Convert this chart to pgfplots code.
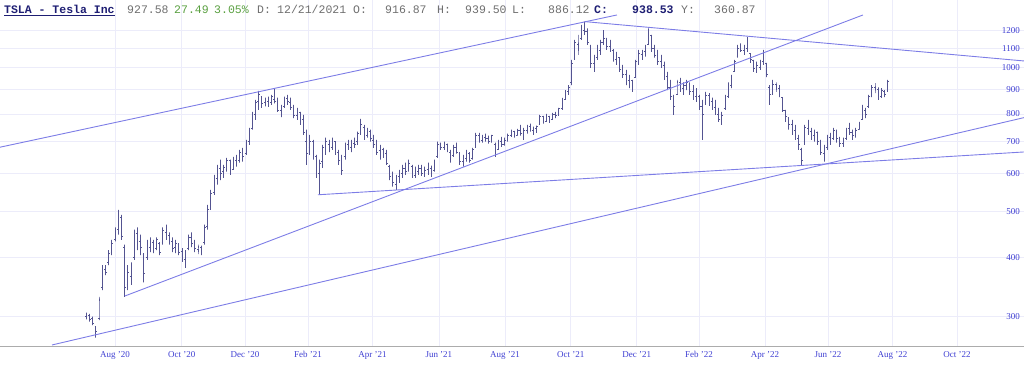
\documentclass[border=0pt]{standalone}
\usepackage{pgfplots}
\pgfplotsset{compat=1.18}
\usepackage{pgfplotstable}
\usepackage{fontspec}
\setmainfont{Liberation Serif}
\newfontfamily\mono{Liberation Mono}

\definecolor{barcol}{RGB}{84,84,145}
\definecolor{trend}{RGB}{125,125,230}
\definecolor{tickcol}{RGB}{62,62,210}
\definecolor{gridcol}{RGB}{236,236,250}
\definecolor{navy}{RGB}{30,30,115}
\definecolor{hdrgray}{RGB}{110,110,110}
\definecolor{hdrgreen}{RGB}{90,160,65}

% d = days since 1 Aug 2020; o h l c = open high low close
\pgfplotstableread{
d o h l c
-27 300 306 296 302
-24 302 304 293 296
-21 297 300 288 290
-18 286 286 271 280
-15 298 330 295 325
-12 345 385 341 378
-9 378 385 367 372
-6 390 414 385 408
-3 410 435 404 428
0 436 462 432 455
3 458 503 446 490
6 485 491 435 442
9 420 425 330 345
12 350 385 341 372
15 365 390 350 385
18 400 457 395 450
21 448 462 414 430
24 432 446 404 420
27 405 408 354 370
30 400 435 395 425
33 420 440 410 432
36 430 435 408 415
39 418 440 414 435
42 428 430 404 410
45 430 462 425 455
48 452 468 435 445
51 445 451 425 430
54 432 440 410 418
57 420 435 408 428
60 425 428 404 410
63 412 418 391 398
66 395 414 380 408
69 418 446 414 440
72 440 451 420 428
75 430 435 410 418
78 415 425 406 420
81 420 423 404 410
84 430 468 425 462
87 465 515 457 505
90 505 554 503 545
93 548 596 541 588
96 585 625 568 610
99 615 641 581 600
102 605 625 587 618
105 612 647 605 640
108 638 641 596 605
111 612 650 610 645
114 640 656 620 630
117 638 672 632 665
120 660 679 635 650
123 662 706 656 700
126 700 748 689 740
129 745 808 741 800
132 800 856 777 845
135 850 894 816 880
138 870 870 824 840
141 845 866 830 850
144 850 870 828 835
147 845 877 836 870
150 860 903 842 850
153 850 866 808 815
156 815 836 788 826
159 828 870 824 860
162 862 877 836 850
165 845 866 816 825
168 825 836 784 795
171 795 824 777 810
174 805 808 759 770
177 780 796 723 730
180 700 741 625 660
183 680 723 656 700
186 700 706 641 660
189 650 656 587 600
192 600 641 541 630
195 635 689 616 680
198 680 713 656 700
201 690 706 665 675
204 680 713 672 705
207 700 700 656 665
210 665 672 625 640
213 640 656 596 610
216 650 696 641 690
219 690 706 672 685
222 680 706 665 700
225 695 713 679 690
228 700 734 689 728
231 730 781 723 760
234 750 759 706 720
237 720 748 713 740
240 735 741 700 710
243 705 723 679 690
246 690 706 656 665
249 670 689 641 680
252 675 679 647 655
255 660 672 625 630
258 620 625 581 590
261 595 605 563 575
264 570 596 554 590
267 590 610 573 600
270 600 625 587 615
273 615 632 596 605
276 610 641 605 630
279 620 625 587 595
282 595 620 587 610
285 605 625 596 615
288 615 625 593 600
291 600 620 590 610
294 612 632 596 620
297 615 623 590 600
300 610 641 605 635
303 650 700 647 690
306 690 696 672 680
309 680 700 672 695
312 690 693 665 670
315 665 672 632 640
318 655 689 650 680
321 680 696 660 665
324 660 665 625 635
327 635 656 620 650
330 645 672 635 660
333 660 665 632 640
336 645 679 641 675
339 680 730 679 720
342 720 730 696 705
345 705 723 696 718
348 715 727 700 710
351 712 720 693 700
354 700 723 696 720
357 690 696 650 660
360 675 706 672 700
363 700 716 682 690
366 690 713 686 705
369 705 727 700 722
372 722 741 716 735
375 735 737 713 720
378 722 744 720 740
381 740 759 720 728
384 728 748 706 740
387 740 759 727 752
390 752 763 734 740
393 740 752 723 745
396 745 756 730 752
399 760 796 759 790
402 790 792 763 770
405 772 800 770 795
408 790 792 766 780
411 780 804 777 800
414 800 808 784 795
417 798 824 792 820
420 820 864 816 860
423 860 898 856 890
426 890 920 877 910
429 930 1039 920 1020
432 1045 1144 1039 1130
435 1120 1172 1064 1090
438 1150 1230 1144 1210
441 1200 1250 1172 1190
444 1190 1210 1117 1130
447 1110 1117 1000 1020
450 1020 1064 980 1050
453 1050 1117 1039 1100
456 1090 1144 1064 1130
459 1130 1200 1117 1150
462 1150 1155 1090 1110
465 1110 1144 1080 1135
468 1090 1095 1030 1040
471 1040 1080 1014 1060
474 1050 1050 980 990
477 990 1014 952 970
480 970 990 920 935
483 940 966 906 950
486 940 943 890 905
489 955 1039 952 1030
492 1030 1090 1014 1070
495 1065 1090 1039 1080
498 1080 1117 1055 1100
501 1120 1210 1117 1180
504 1170 1172 1080 1100
507 1100 1117 1050 1060
510 1060 1090 1014 1030
513 1030 1064 1000 1010
516 1010 1030 943 960
519 960 980 898 910
522 910 943 856 870
525 870 877 796 830
528 880 943 877 930
531 930 952 890 905
534 905 932 877 920
537 920 943 898 930
540 925 932 877 890
543 890 920 856 870
546 870 906 848 895
549 870 877 816 830
552 830 856 706 800
555 845 890 836 875
558 875 885 832 850
561 850 866 816 825
564 825 856 796 805
567 800 824 770 780
570 780 808 759 795
573 820 877 816 870
576 870 932 864 920
579 920 966 906 960
582 985 1039 980 1030
585 1055 1117 1050 1100
588 1095 1125 1080 1090
591 1090 1117 1064 1110
594 1100 1160 1080 1090
597 1070 1072 1024 1040
600 1035 1039 980 995
603 990 1030 976 1010
606 1000 1039 990 1030
609 1030 1090 1014 1075
612 1020 1024 956 970
615 910 920 836 880
618 880 943 877 925
621 925 932 890 900
624 905 920 868 875
627 865 868 808 815
630 815 816 770 790
633 785 788 741 760
636 760 777 723 735
639 740 759 706 715
642 712 723 672 690
645 675 679 625 640
648 700 759 689 750
651 745 777 723 735
654 735 748 706 715
657 720 741 700 730
660 730 734 689 700
663 700 706 656 665
666 660 689 635 680
669 680 723 672 715
672 715 730 689 700
675 710 748 706 740
678 735 741 696 710
681 710 716 682 695
684 695 713 682 705
687 710 748 706 740
690 745 766 723 730
693 730 741 706 720
696 720 748 713 740
699 742 770 741 765
702 780 836 777 825
705 815 824 784 800
708 830 877 824 870
711 870 920 868 910
714 910 928 885 900
717 900 910 856 870
720 870 906 864 895
723 890 898 868 880
726 895 943 890 935
}\ohlc
\pgfplotstablegetrowsof{\ohlc}
\pgfmathtruncatemacro{\nlast}{\pgfplotsretval-1}

\pgfplotsset{ohlc/.style={barcol, line width=0.75pt, forget plot}}

\begin{document}
\begin{tikzpicture}
\useasboundingbox (0pt,0pt) rectangle (1024pt,365pt);
\begin{axis}[
  at={(0pt,18.5pt)}, anchor=south west,
  scale only axis, width=1024pt, height=346.5pt,
  xmin=-108, xmax=854,
  ymode=log, ymin=259.7, ymax=1388,
  axis line style={draw=none},
  tick style={draw=none},
  major tick length=0pt,
  grid=major,
  major grid style={gridcol, line width=0.6pt},
  xtick={0,62.7,122.1,181.3,242,304.3,366.4,428.1,490.1,548.6,610.6,669.8,730.5,791},
  xticklabels={Aug '20,Oct '20,Dec '20,Feb '21,Apr '21,Jun '21,Aug '21,Oct '21,Dec '21,Feb '22,Apr '22,Jun '22,Aug '22,Oct '22},
  xticklabel style={font=\fontsize{9}{10}\selectfont, text=tickcol, inner sep=0pt, anchor=north, yshift=-5pt},
  ytick={300,400,500,600,700,800,900,1000,1100,1200},
  yticklabels={300,400,500,600,700,800,900,1000,1100,1200},
  yticklabel pos=right,
  yticklabel style={font=\fontsize{9}{10}\selectfont, text=tickcol, inner sep=0pt, anchor=east, xshift=-4pt},
  clip=true,
]
\pgfplotsforeachungrouped \i in {0,...,\nlast}{%
  \pgfplotstablegetelem{\i}{d}\of\ohlc\let\vd\pgfplotsretval
  \pgfplotstablegetelem{\i}{o}\of\ohlc\let\vo\pgfplotsretval
  \pgfplotstablegetelem{\i}{h}\of\ohlc\let\vh\pgfplotsretval
  \pgfplotstablegetelem{\i}{l}\of\ohlc\let\vl\pgfplotsretval
  \pgfplotstablegetelem{\i}{c}\of\ohlc\let\vc\pgfplotsretval
  \pgfmathsetmacro\xl{\vd-1.1}%
  \pgfmathsetmacro\xr{\vd+1.1}%
  \edef\cmd{\noexpand\addplot[ohlc] coordinates {(\xl,\vo) (\vd,\vo) (\vd,\vl) (\vd,\vh) (\vd,\vc) (\xr,\vc)};}%
  \cmd
}
% trend lines
\addplot[trend, line width=0.9pt, forget plot] coordinates {(-108,681) (471.6,1291)};
\addplot[trend, line width=0.9pt, forget plot] coordinates {(9.4,331.6) (702.7,1291)};
\addplot[trend, line width=0.9pt, forget plot] coordinates {(-59.2,261.6) (853.9,785.7)};
\addplot[trend, line width=0.9pt, forget plot] coordinates {(441.5,1250) (853.9,1033.5)};
\addplot[trend, line width=0.9pt, forget plot] coordinates {(190.7,541) (853.9,665.5)};
\draw[color={rgb,255:red,172;green,172;blue,172}, line width=1.5pt] (rel axis cs:0,0) -- (rel axis cs:1,0);
\end{axis}
% header
\begin{scope}[every node/.style={anchor=base west, inner sep=0pt, font=\mono\fontsize{11.5}{13}\selectfont}]
\node[text=navy] at (4pt,351.5pt) {\textbf{\underline{TSLA - Tesla Inc}}};
\node[text=hdrgray] at (127pt,351.5pt) {927.58};
\node[text=hdrgreen] at (174pt,351.5pt) {27.49};
\node[text=hdrgreen] at (214pt,351.5pt) {3.05\%};
\node[text=hdrgray] at (257pt,351.5pt) {D:};
\node[text=hdrgray] at (277pt,351.5pt) {12/21/2021};
\node[text=hdrgray] at (353pt,351.5pt) {O:};
\node[text=hdrgray] at (385pt,351.5pt) {916.87};
\node[text=hdrgray] at (437pt,351.5pt) {H:};
\node[text=hdrgray] at (465pt,351.5pt) {939.50};
\node[text=hdrgray] at (512pt,351.5pt) {L:};
\node[text=hdrgray] at (548pt,351.5pt) {886.12};
\node[text=navy] at (594pt,351.5pt) {\textbf{C:}};
\node[text=navy] at (632pt,351.5pt) {\textbf{938.53}};
\node[text=hdrgray] at (681pt,351.5pt) {Y:};
\node[text=hdrgray] at (714pt,351.5pt) {360.87};
\end{scope}
\end{tikzpicture}
\end{document}
